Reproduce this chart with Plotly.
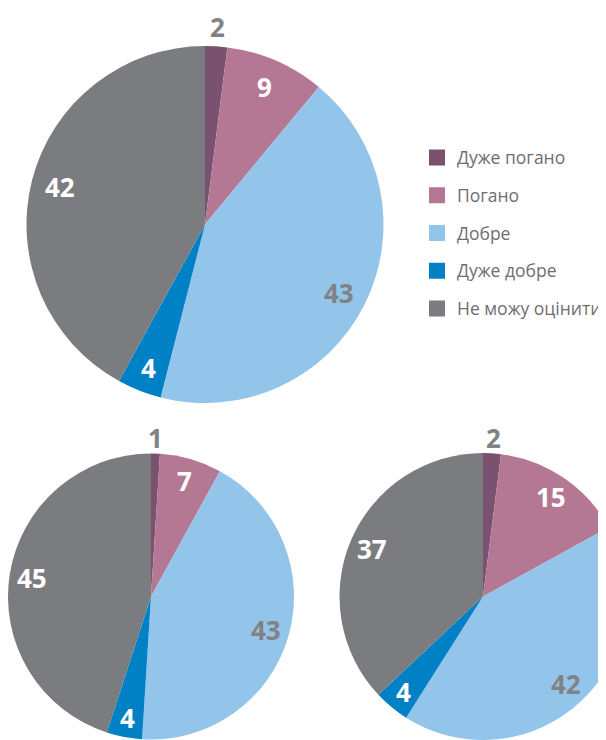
import math
import plotly.graph_objects as go

# ---- data ----
categories = ["Дуже погано", "Погано", "Добре", "Дуже добре", "Не можу оцінити"]
values_top = [2, 9, 43, 4, 42]
values_left = [1, 7, 43, 4, 45]
values_right = [2, 15, 42, 4, 37]

# ---- styles ----
colors = ["#7b5170", "#b57894", "#93c5eb", "#0080c5", "#7b7c80"]
label_grey = "#808285"
inside_text_colors = ["white", "white", label_grey, "white", "white"]
FONT = "Open Sans"
NUM_SIZE = 26

W, H = 650, 740
OFF = 8  # page body margin


def domain(cx, cy, r):
    return dict(x=[max(0, (cx - OFF - r) / W), min(1, (cx - OFF + r) / W)],
                y=[max(0, 1 - (cy - OFF + r) / H), min(1, 1 - (cy - OFF - r) / H)])


def value_labels(vals, cx, cy, r):
    """Place value labels along each slice's bisector (clockwise from 12 o'clock)."""
    total = float(sum(vals))
    anns = []
    cum = 0.0
    for v, tcol in zip(vals, inside_text_colors):
        share = v / total
        mid = 2 * math.pi * (cum + v / 2) / total
        cum += v
        if share < 0.03:
            frac, col = 1.11, label_grey
        elif share < 0.06:
            frac, col = 0.865, tcol
        else:
            frac, col = 0.84, tcol
        sx = cx + frac * r * math.sin(mid)
        sy = cy - frac * r * math.cos(mid)
        anns.append(dict(
            x=(sx - OFF) / W, y=1 - (sy - OFF) / H, xref="paper", yref="paper",
            text=str(v), showarrow=False, xanchor="center", yanchor="middle",
            font=dict(family=FONT, size=NUM_SIZE, color=col, weight="bold"),
        ))
    return anns


pies = [
    (values_top, (205, 224.5, 178.5)),
    (values_left, (151, 596.5, 143)),
    (values_right, (483, 596.5, 143.5)),
]

fig = go.Figure()
annotations = []
for vals, (cx, cy, r) in pies:
    fig.add_trace(go.Pie(
        labels=categories, values=vals, domain=domain(cx, cy, r), sort=False,
        direction="clockwise", rotation=0,
        marker=dict(colors=colors, line=dict(width=0)),
        textinfo="none", showlegend=False, hoverinfo="label+value",
    ))
    annotations += value_labels(vals, cx, cy, r)

# legend entries
for cat, col in zip(categories, colors):
    fig.add_trace(go.Scatter(
        x=[None], y=[None], mode="markers", name=cat, legendgroup=cat,
        marker=dict(symbol="square", size=16, color=col),
    ))

fig.update_layout(
    width=W, height=H,
    margin=dict(l=0, r=0, t=0, b=0),
    paper_bgcolor="white", plot_bgcolor="white",
    xaxis=dict(visible=False), yaxis=dict(visible=False),
    annotations=annotations,
    legend=dict(
        x=409 / W, y=1 - 131.5 / H, xanchor="left", yanchor="top",
        font=dict(family=FONT, size=17.5, color="#6d6e71"),
        tracegroupgap=12, traceorder="grouped",
        bgcolor="rgba(0,0,0,0)",
    ),
    font=dict(family=FONT),
)

fig.write_html("out.html")
